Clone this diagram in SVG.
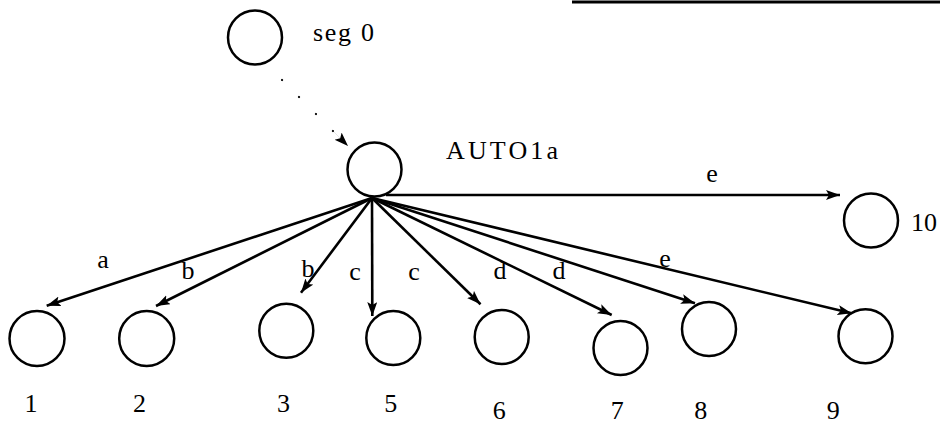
<svg xmlns="http://www.w3.org/2000/svg" width="940" height="425" viewBox="0 0 940 425">
<style>
  .node { fill: none; stroke: #000; stroke-width: 2.5; }
  .lbl { font-family: "Liberation Serif", "Times New Roman", serif; font-size: 26px; fill: #000; }
  .edge { stroke: #000; stroke-width: 2.6; fill: none; marker-end: url(#arr); }
  .dots { stroke: #000; stroke-width: 2.2; fill: none; stroke-linecap: round; stroke-dasharray: 0.1 23.9; }
</style>
<defs>
  <marker id="arr" markerUnits="userSpaceOnUse" markerWidth="16" markerHeight="12" refX="14" refY="5" orient="auto">
    <path d="M0,0 L14,5 L0,10 L3,5 z" fill="#000"/>
  </marker>
</defs>
<rect width="940" height="425" fill="#fff"/>
<line x1="572" y1="2" x2="940" y2="2" stroke="#000" stroke-width="3"/>

<g id="connectors">
  <line class="dots" x1="282" y1="80" x2="333" y2="131"/>
  <line x1="334" y1="132" x2="348" y2="146" stroke="#000" stroke-width="0.1" marker-end="url(#arr)"/>
  <line class="edge" x1="386" y1="195" x2="840" y2="195"/>
  <line class="edge" x1="372" y1="198" x2="46.7" y2="305.7"/>
  <line class="edge" x1="372" y1="198" x2="156" y2="306"/>
  <line class="edge" x1="372" y1="198" x2="301" y2="292.7"/>
  <line class="edge" x1="372" y1="198" x2="372.3" y2="316"/>
  <line class="edge" x1="372" y1="198" x2="480.5" y2="304.3"/>
  <line class="edge" x1="372" y1="198" x2="611.7" y2="315"/>
  <line class="edge" x1="372" y1="198" x2="695" y2="303.3"/>
  <line class="edge" x1="372" y1="198" x2="851.7" y2="313.3"/>
  <text class="lbl" x="712" y="182" text-anchor="middle">e</text>
  <text class="lbl" x="103" y="268" text-anchor="middle">a</text>
  <text class="lbl" x="188" y="279" text-anchor="middle">b</text>
  <text class="lbl" x="308" y="277" text-anchor="middle">b</text>
  <text class="lbl" x="355" y="280" text-anchor="middle">c</text>
  <text class="lbl" x="414" y="280" text-anchor="middle">c</text>
  <text class="lbl" x="500" y="279" text-anchor="middle">d</text>
  <text class="lbl" x="559" y="279" text-anchor="middle">d</text>
  <text class="lbl" x="665" y="267" text-anchor="middle">e</text>
</g>

<g id="seg0">
  <circle class="node" cx="255" cy="37.5" r="27"/>
  <text class="lbl" x="313" y="41" textLength="61" lengthAdjust="spacing">seg 0</text>
</g>
<g id="AUTO1a">
  <circle class="node" cx="374.5" cy="169.5" r="27"/>
  <text class="lbl" x="446" y="159" font-size="27" textLength="112" lengthAdjust="spacing">AUTO1a</text>
</g>
<g id="n10">
  <circle class="node" cx="871" cy="220.5" r="27"/>
  <text class="lbl" x="911" y="231">10</text>
</g>
<g id="n1">
  <circle class="node" cx="37" cy="338.5" r="27.5"/>
  <text class="lbl" x="31" y="412" text-anchor="middle">1</text>
</g>
<g id="n2">
  <circle class="node" cx="146.7" cy="338.5" r="27.5"/>
  <text class="lbl" x="139.5" y="412" text-anchor="middle">2</text>
</g>
<g id="n3">
  <circle class="node" cx="286.3" cy="330.8" r="27"/>
  <text class="lbl" x="283.5" y="412" text-anchor="middle">3</text>
</g>
<g id="n5">
  <circle class="node" cx="393.3" cy="338" r="27"/>
  <text class="lbl" x="390.7" y="412" text-anchor="middle">5</text>
</g>
<g id="n6">
  <circle class="node" cx="501.7" cy="337" r="27"/>
  <text class="lbl" x="499.3" y="419" text-anchor="middle">6</text>
</g>
<g id="n7">
  <circle class="node" cx="620.5" cy="348" r="27"/>
  <text class="lbl" x="617.3" y="419" text-anchor="middle">7</text>
</g>
<g id="n8">
  <circle class="node" cx="709" cy="329" r="27"/>
  <text class="lbl" x="700.7" y="419" text-anchor="middle">8</text>
</g>
<g id="n9">
  <circle class="node" cx="865.5" cy="336.3" r="27"/>
  <text class="lbl" x="833.3" y="419" text-anchor="middle">9</text>
</g>
</svg>
